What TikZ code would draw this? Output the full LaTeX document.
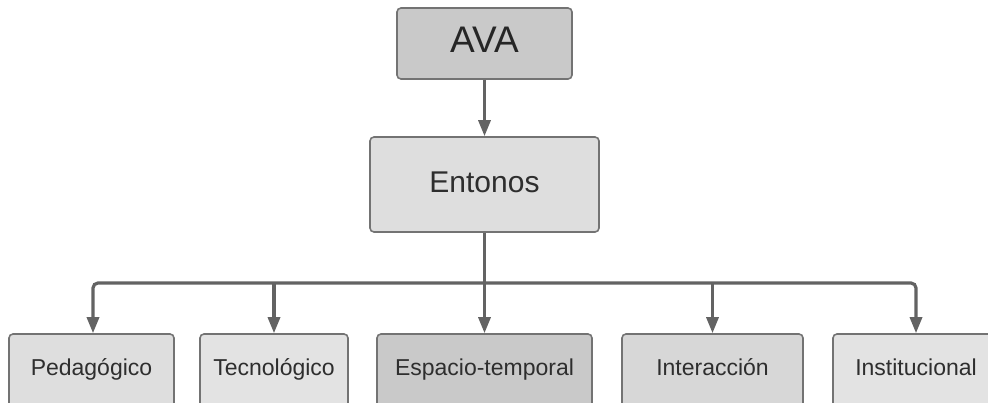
\documentclass[tikz,border=0pt]{standalone}
\usepackage{fontspec}
\setmainfont{Liberation Sans}
\usetikzlibrary{arrows.meta}
\definecolor{boxline}{HTML}{737373}
\definecolor{conncol}{HTML}{636363}
\definecolor{txtcol}{HTML}{2E2E2E}
\definecolor{filldark}{HTML}{C9C9C9}
\definecolor{fillmid}{HTML}{D7D7D7}
\definecolor{filllight}{HTML}{DEDEDE}
\definecolor{filllighter}{HTML}{E3E3E3}
\tikzset{
  box/.style={draw=boxline, line width=1.6pt, rounded corners=4pt, inner sep=0pt, text=txtcol, align=center},
  bottombox/.style={box, minimum height=82pt, text height=12pt, text depth=12pt, font=\fontsize{23}{26}\selectfont},
  conn/.style={draw=conncol, line width=3.2pt, -{Triangle[length=16pt,width=12pt]}},
}
\begin{document}
\begin{tikzpicture}[x=1pt,y=-1pt]
\useasboundingbox (0,0) rectangle (988,402);
\clip (0,0) rectangle (988,402);
\node[box, fill=filldark, minimum width=175pt, minimum height=71pt, text height=27pt, text depth=10pt, font=\fontsize{37}{40}\selectfont, text=black!85] (ava) at (484.5,43.5) {AVA};
\node[box, fill=filllight, minimum width=229pt, minimum height=95pt, text height=22pt, text depth=7pt, font=\fontsize{30}{33}\selectfont] (ent) at (484.5,184.5) {Entonos};
\node[bottombox, fill=filllight, minimum width=165pt] (ped) at (91.5,375) {Pedagógico};
\node[bottombox, fill=filllighter, minimum width=148pt] (tec) at (274,375) {Tecnológico};
\node[bottombox, fill=filldark, minimum width=215pt] (esp) at (484.5,375) {Espacio-temporal};
\node[bottombox, fill=fillmid, minimum width=181pt] (int) at (712.5,375) {Interacción};
\node[bottombox, fill=filllighter, minimum width=166pt] (ins) at (916,375) {Institucional};
\coordinate (j) at (484.5,283);
\draw[conn] (ava.south) -- (ent.north);
\draw[conn] (ent.south) -- (esp.north);
\draw[conn, rounded corners=5pt] (j) -| ([xshift=1.5pt]ped.north);
\draw[conn] (j -| tec.north) -- (tec.north);
\draw[conn] (j -| int.north) -- (int.north);
\draw[conn, rounded corners=5pt] (j) -| (ins.north);
\end{tikzpicture}
\end{document}
